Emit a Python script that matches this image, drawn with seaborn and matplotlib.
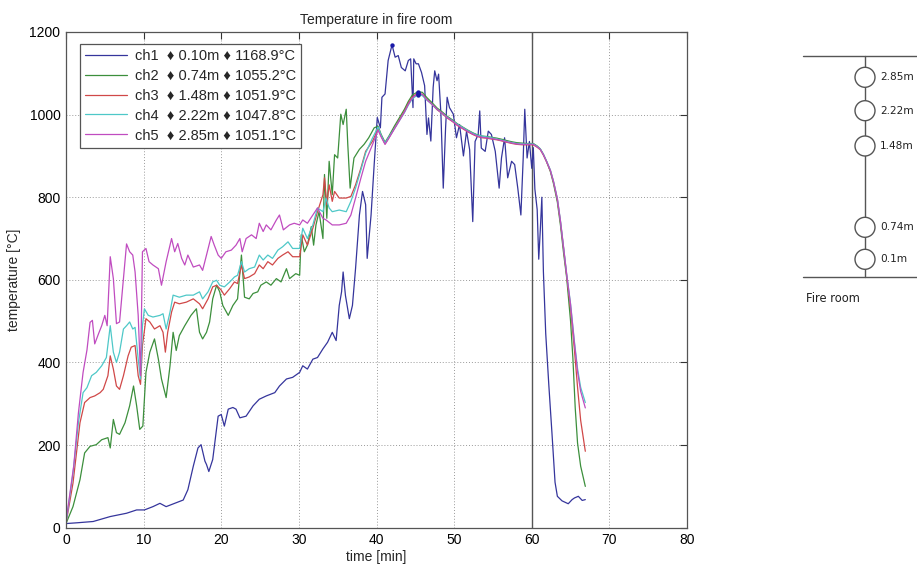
import numpy as np
import pandas as pd
import matplotlib
matplotlib.use("Agg")
import matplotlib.pyplot as plt
from matplotlib.patches import Circle
from matplotlib.lines import Line2D
import seaborn as sns

# ---------------- data ----------------
channels = ["ch1", "ch2", "ch3", "ch4", "ch5"]
heights = ["0.10m", "0.74m", "1.48m", "2.22m", "2.85m"]
max_labels = ["1168.9°C", "1055.2°C", "1051.9°C", "1047.8°C", "1051.1°C"]
colors = ["#35359c", "#3c8f3c", "#d04848", "#4ec8c8", "#c04cc0"]

t_ch1 = [0.0, 1.5, 3.5, 5.7, 7.8, 9.1, 10.1, 11.2, 12.1, 12.9, 14.0, 15.1, 15.7, 16.4, 17.0, 17.4, 17.9, 18.1,
         18.4, 18.9, 19.6, 20.0, 20.4, 20.9, 21.5, 21.9, 22.4, 23.2, 24.1, 24.9, 25.8, 26.9, 27.5, 28.4, 29.2,
         30.1, 30.5, 31.1, 31.8, 32.4, 33.1, 33.7, 34.3, 34.8, 35.2, 35.5, 35.7, 36.0, 36.5, 36.9, 37.3, 37.8,
         38.2, 38.6, 38.8, 39.3, 39.7, 40.1, 40.5, 40.7, 41.1, 41.5, 42.0, 42.4, 42.8, 43.2, 43.7, 44.1, 44.4,
         44.7, 44.8, 45.1, 45.4, 45.8, 46.2, 46.5, 46.7, 47.0, 47.3, 47.5, 47.8, 48.0, 48.3, 48.6, 48.9, 49.1,
         49.4, 49.9, 50.3, 50.7, 51.2, 51.6, 52.0, 52.4, 52.7, 53.1, 53.3, 53.5, 54.0, 54.4, 54.8, 55.3, 55.8,
         56.1, 56.5, 56.9, 57.4, 57.8, 58.2, 58.6, 58.9, 59.1, 59.4, 59.7, 60.0, 60.2, 60.4, 60.7, 60.9, 61.1,
         61.3, 61.5, 61.8, 62.2, 62.6, 63.0, 63.3, 63.9, 64.7, 65.2, 65.5, 66.0, 66.5, 66.9]
T_ch1 = [10, 12, 15, 27, 35, 43, 43, 51, 59, 51, 59, 67, 92, 149, 193, 201, 161, 153,
         136, 165, 270, 274, 246, 287, 291, 287, 266, 270, 295, 311, 319, 327, 343, 360, 364,
         376, 392, 384, 408, 412, 433, 449, 473, 453, 538, 571, 619, 562, 506, 538, 627, 757,
         814, 782, 652, 757, 879, 993, 968, 1042, 1050, 1131, 1168.9, 1139, 1143, 1114, 1106, 1131, 1135,
         1017, 1135, 1123, 1123, 1102, 1070, 952, 992, 936, 1066, 1106, 1082, 1098, 1001, 822, 968, 1042,
         1017, 1001, 944, 976, 900, 960, 915, 741, 935, 952, 1009, 919, 911, 960, 952, 911, 822,
         895, 944, 847, 887, 879, 822, 757, 895, 1013, 895, 935, 870, 920, 820, 770, 650, 720,
         800, 620, 470, 345, 230, 110, 76, 65, 58, 68, 72, 76, 66, 68]

t_ch2 = [0.0, 0.9, 1.8, 2.4, 3.1, 3.9, 4.6, 5.4, 5.7, 6.1, 6.5, 6.9, 7.6, 8.2, 8.7, 9.1, 9.5, 9.9, 10.3, 10.8,
         11.4, 11.9, 12.3, 12.9, 13.4, 13.8, 14.2, 14.6, 15.3, 16.1, 16.8, 17.2, 17.6, 18.1, 18.5, 18.9, 19.4,
         19.8, 20.2, 20.9, 21.5, 22.1, 22.6, 23.0, 23.6, 24.1, 24.7, 25.1, 25.8, 26.4, 27.1, 27.7, 28.4, 28.8,
         29.6, 30.1, 30.3, 30.7, 31.1, 31.6, 31.9, 32.2, 32.6, 33.1, 33.3, 33.6, 33.9, 34.3, 34.6, 35.0, 35.4,
         35.7, 36.1, 36.3, 36.6, 37.1, 37.8, 38.4, 39.0, 39.7, 40.2, 40.6, 41.1, 41.6, 42.3, 43.0, 43.6, 44.1,
         44.6, 45.3, 45.9, 46.5, 47.2, 47.8, 48.5, 49.1, 49.8, 50.4, 51.1, 51.7, 52.4, 53.0, 53.6, 54.2, 54.8,
         55.5, 56.2, 56.8, 57.5, 58.1, 58.8, 59.4, 60.2, 60.7, 61.1, 61.5, 61.9, 62.4, 62.8, 63.3, 63.7, 64.1,
         64.5, 65.0, 65.3, 65.6, 65.9, 66.3, 66.9]
T_ch2 = [10, 51, 116, 181, 197, 201, 213, 218, 193, 262, 230, 226, 254, 295, 343, 295, 238, 246, 376, 425,
         457, 408, 360, 315, 392, 473, 429, 465, 489, 514, 530, 473, 457, 473, 498, 554, 587,
         571, 538, 514, 538, 554, 660, 558, 554, 567, 571, 587, 595, 587, 603, 595, 627, 603,
         615, 611, 709, 668, 684, 729, 684, 733, 765, 700, 855, 749, 887, 806, 903, 895, 1001,
         976, 1013, 928, 822, 895, 916, 928, 944, 968, 972, 952, 933, 948, 972, 994, 1013, 1032,
         1047, 1055.2, 1054, 1041, 1028, 1016, 1006, 996, 987, 978, 970, 963, 956, 951, 948, 947, 945,
         943, 940, 937, 934, 932, 931, 930, 930, 924, 917, 904, 887, 862, 833, 788, 732, 665,
         605, 500, 410, 290, 205, 149, 100]

t_ch3 = [0.0, 0.9, 1.8, 2.4, 3.1, 3.7, 4.4, 4.8, 5.4, 5.7, 6.1, 6.5, 6.9, 7.4, 8.0, 8.4, 8.9, 9.3, 9.6, 9.85,
         10.3, 10.8, 11.4, 12.1, 12.5, 12.8, 13.1, 13.6, 14.0, 14.6, 15.5, 16.4, 17.2, 17.6, 18.3, 18.9, 19.4,
         20.0, 20.4, 21.1, 21.7, 22.1, 22.6, 23.0, 23.6, 24.3, 24.9, 25.4, 26.0, 26.6, 27.3, 27.9, 28.6, 29.2,
         30.1, 30.5, 31.1, 31.8, 32.4, 33.1, 33.3, 33.6, 33.9, 34.3, 34.6, 35.2, 36.1, 36.7, 37.3, 38.0, 38.6,
         39.5,
         40.2, 40.6, 41.1, 41.6, 42.3, 43.0, 43.6, 44.1, 44.6, 45.3, 45.9, 46.5, 47.2, 47.8, 48.5, 49.1, 49.8,
         50.4, 51.1, 51.7, 52.4, 53.0, 53.6, 54.2, 54.8, 55.5, 56.2, 56.8, 57.5, 58.1, 58.8, 59.4, 60.2, 60.7,
         61.1, 61.5, 61.9, 62.4, 62.8, 63.3, 63.7, 64.1, 64.5, 65.0, 65.5, 65.9, 66.3, 66.9]
T_ch3 = [10, 108, 254, 303, 315, 319, 327, 335, 368, 416, 384, 343, 335, 368, 416, 437, 441, 368, 347, 441,
         506, 498, 481, 489, 473, 425, 473, 522, 546, 542, 546, 554, 542, 530, 554, 583, 587,
         575, 563, 579, 595, 591, 636, 603, 607, 615, 636, 627, 644, 636, 652, 660, 668, 656,
         656, 709, 684, 725, 765, 806, 847, 782, 830, 790, 814, 798, 798, 802, 830, 871, 911,
         936,
         966, 948, 929, 944, 967, 989, 1008, 1027, 1042, 1051.9, 1049, 1036, 1024, 1012, 1002, 992, 983,
         974, 966, 959, 952, 947, 944, 943, 941, 939, 936, 933, 930, 928, 927, 927, 927, 921,
         915, 902, 886, 864, 837, 794, 740, 676, 610, 530, 430, 340, 260, 185]

t_ch4 = [0.0, 0.9, 1.6, 2.2, 2.7, 3.3, 3.9, 4.6, 5.2, 5.7, 6.1, 6.5, 6.9, 7.4, 7.8, 8.2, 8.6, 8.9, 9.3, 9.6,
         9.85, 10.1, 10.6, 11.2, 12.1, 12.5, 12.9, 13.4, 13.8, 14.6, 15.5, 16.4, 17.2, 17.6, 18.3, 18.9, 19.4,
         19.8, 20.4, 21.1, 21.7, 22.1, 22.6, 23.0, 23.6, 24.3, 24.9, 25.4, 26.0, 26.6, 27.3, 27.9, 28.6, 29.2,
         30.1, 30.5, 31.1, 31.8, 32.4, 33.1, 33.5, 33.9, 34.3, 35.2, 36.1, 36.7, 37.3, 38.0, 38.6, 39.5,
         40.2, 40.6, 41.1, 41.6, 42.3, 43.0, 43.6, 44.1, 44.6, 45.3, 45.9, 46.5, 47.2, 47.8, 48.5, 49.1, 49.8,
         50.4, 51.1, 51.7, 52.4, 53.0, 53.6, 54.2, 54.8, 55.5, 56.2, 56.8, 57.5, 58.1, 58.8, 59.4, 60.2, 60.7,
         61.1, 61.5, 61.9, 62.4, 62.8, 63.3, 63.7, 64.1, 64.5, 65.0, 65.5, 65.9, 66.3, 66.9]
T_ch4 = [10, 132, 254, 327, 339, 368, 376, 392, 412, 489, 425, 400, 425, 481, 489, 498, 481, 485, 408, 360,
         489, 530, 514, 510, 514, 518, 481, 522, 563, 558, 563, 563, 571, 554, 571, 595, 599,
         587, 583, 595, 607, 611, 644, 619, 627, 631, 660, 648, 660, 652, 672, 680, 692, 676,
         676, 725, 700, 733, 774, 765, 798, 774, 765, 769, 765, 790, 822, 867, 907, 944,
         970, 950, 931, 946, 966, 987, 1005, 1023, 1038, 1047.8, 1046, 1035, 1024, 1013, 1003, 994, 985,
         977, 969, 962, 955, 950, 948, 946, 944, 941, 938, 935, 932, 930, 929, 929, 929, 923,
         917, 904, 888, 866, 839, 797, 743, 679, 614, 542, 450, 385, 340, 303]

t_ch5 = [0.0, 1.0, 1.6, 2.2, 2.7, 3.1, 3.4, 3.7, 4.2, 4.6, 5.0, 5.3, 5.7, 6.1, 6.5, 6.9, 7.4, 7.8, 8.2, 8.6,
         8.9, 9.3, 9.6, 9.85, 10.3, 10.7, 11.2, 11.9, 12.3, 12.9, 13.6, 14.0, 14.4, 14.9, 15.3, 15.7, 16.4,
         17.2, 17.6, 18.1, 18.7, 19.1, 19.6, 20.0, 20.6, 21.3, 21.9, 22.4, 22.7, 23.2, 23.9, 24.5, 24.9, 25.4,
         25.8, 26.4, 27.1, 27.5, 28.0, 28.8, 29.4, 30.1, 30.5, 31.1, 31.8, 32.4, 33.1, 33.5, 34.3, 35.2, 36.1,
         36.7, 37.3, 38.0, 38.6, 39.5,
         40.2, 40.6, 41.1, 41.6, 42.3, 43.0, 43.6, 44.1, 44.6, 45.3, 45.9, 46.5, 47.2, 47.8, 48.5, 49.1, 49.8,
         50.4, 51.1, 51.7, 52.4, 53.0, 53.6, 54.2, 54.8, 55.5, 56.2, 56.8, 57.5, 58.1, 58.8, 59.4, 60.2, 60.7,
         61.1, 61.5, 61.9, 62.4, 62.8, 63.3, 63.7, 64.1, 64.5, 65.0, 65.5, 65.9, 66.3, 66.9]
T_ch5 = [15, 150, 278, 376, 430, 497, 502, 445, 470, 489, 514, 489, 656, 603, 494, 498, 603, 687, 668, 660,
         619, 514, 368, 668, 676, 644, 636, 627, 587, 644, 700, 668, 688, 652, 636, 660, 631,
         636, 623, 660, 705, 684, 660, 652, 668, 672, 684, 700, 668, 700, 709, 700, 737, 717,
         733, 721, 745, 757, 721, 733, 737, 733, 745, 737, 757, 774, 749, 745, 733, 733, 737,
         757, 798, 847, 887, 928,
         962, 946, 928, 943, 965, 987, 1006, 1025, 1040, 1051.1, 1049, 1036, 1024, 1013, 1003, 993, 984,
         975, 967, 960, 953, 948, 945, 944, 942, 940, 937, 934, 931, 929, 928, 928, 928, 922,
         916, 903, 887, 865, 838, 796, 742, 678, 613, 540, 446, 378, 330, 290]

# schematic on the right
diagram_labels = ["0.1m", "0.74m", "1.48m", "2.22m", "2.85m"]
diagram_y_px = [259.3, 227.3, 146.0, 110.7, 77.3]

# ---------------- build long table ----------------
times = [t_ch1, t_ch2, t_ch3, t_ch4, t_ch5]
temps = [T_ch1, T_ch2, T_ch3, T_ch4, T_ch5]
frames = []
for ch, tt, TT in zip(channels, times, temps):
    frames.append(pd.DataFrame({"time": tt, "temp": TT, "channel": ch}))
df = pd.concat(frames, ignore_index=True)
peaks = df.loc[df.groupby("channel")["temp"].idxmax()]

# ---------------- style ----------------
sns.set_style("white")
plt.rcParams["font.family"] = ["Liberation Sans", "DejaVu Sans"]
plt.rcParams["font.size"] = 10

W, H = 917, 566
fig = plt.figure(figsize=(W / 100, H / 100), dpi=100)
fig.patch.set_facecolor("white")

x0, x1, ytop, ybot = 66, 687, 32, 527.7
ax = fig.add_axes([x0 / W, 1 - ybot / H, (x1 - x0) / W, (ybot - ytop) / H])

sns.lineplot(data=df, x="time", y="temp", hue="channel", hue_order=channels, palette=colors,
             estimator=None, sort=False, units="channel", linewidth=0.9, legend=False, ax=ax)
sns.scatterplot(data=peaks, x="time", y="temp", color="#1a1aa8", s=10, linewidth=0, ax=ax, zorder=5)

ax.axvline(60, color="#555555", linewidth=1.0, zorder=1)

ax.set_xlim(0, 80)
ax.set_ylim(0, 1200)
ax.set_xticks(np.arange(0, 81, 10))
ax.set_yticks(np.arange(0, 1201, 200))
ax.grid(True, linestyle=(0, (1, 2)), color="#9a9a9a", linewidth=0.7)
ax.tick_params(direction="in", length=5, top=True, right=True, labelsize=10, colors="#333333",
               labelcolor="black", pad=4)
for s in ax.spines.values():
    s.set_color("#555555")
    s.set_linewidth(0.9)
ax.set_xlabel("time [min]", fontsize=10, labelpad=2)
ax.set_ylabel("temperature [°C]", fontsize=10, labelpad=6)
ax.set_title("Temperature in fire room", fontsize=10, pad=6)

handles = [Line2D([0], [0], color=c, linewidth=0.9) for c in colors]
labels = [f"{ch}  \u2666 {h} \u2666 {m}" for ch, h, m in zip(channels, heights, max_labels)]
leg = ax.legend(handles, labels, loc="upper left",
                bbox_to_anchor=((80 - x0) / (x1 - x0), (ybot - 44) / (ybot - ytop)),
                borderaxespad=0, frameon=True, fancybox=False, framealpha=1, edgecolor="#555555",
                handlelength=2.9, handletextpad=0.5, labelspacing=0.4, fontsize=10.5,
                borderpad=0.35)
leg.get_frame().set_linewidth(0.9)

# ---------------- schematic ----------------
ax2 = fig.add_axes([0, 0, 1, 1], zorder=-1)
ax2.set_xlim(0, W)
ax2.set_ylim(H, 0)
ax2.axis("off")
lc = "#555555"
top_y, bot_y, xv = 55.7, 277.3, 865
ax2.plot([803, W], [top_y, top_y], color=lc, lw=1)
ax2.plot([803, W], [bot_y, bot_y], color=lc, lw=1)
ax2.plot([xv, xv], [top_y, bot_y], color=lc, lw=1)
for lab, yy in zip(diagram_labels, diagram_y_px):
    ax2.add_patch(Circle((xv, yy), 10, facecolor="white", edgecolor=lc, lw=1, zorder=3))
    ax2.text(880, yy, lab, fontsize=7.6, family="DejaVu Sans", va="center", ha="left", color="#222222")
ax2.text(806, 298, "Fire room", fontsize=8.3, family="DejaVu Sans", va="center", ha="left", color="#222222")

fig.savefig("out.png", dpi=100, facecolor="white")
